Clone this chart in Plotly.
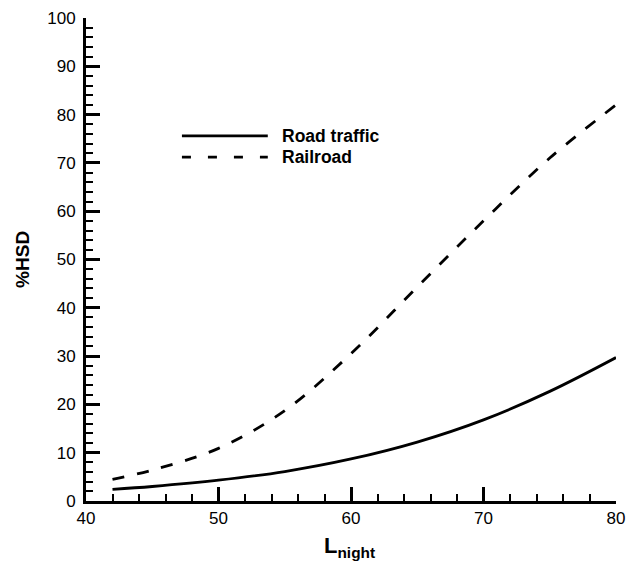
import plotly.graph_objects as go

# Data
l_night = [42, 45, 50, 55, 60, 65, 70, 75, 80]
road_traffic = [2.4, 3.0, 4.3, 6.1, 8.7, 12.2, 16.8, 22.7, 29.7]
railroad = [4.5, 6.4, 10.9, 18.7, 30.5, 44.3, 58.0, 71.0, 82.0]
series_names = ["Road traffic", "Railroad"]
x_title = "L<sub>night</sub>"
y_title = "%HSD"

FONT = "Liberation Sans, Arial, sans-serif"

fig = go.Figure()
fig.add_trace(go.Scatter(x=l_night, y=road_traffic, mode="lines", name=series_names[0],
                         line=dict(color="black", width=2.8, shape="spline", smoothing=1.0),
                         showlegend=False))
fig.add_trace(go.Scatter(x=l_night, y=railroad, mode="lines", name=series_names[1],
                         line=dict(color="black", width=2.8, shape="spline", smoothing=1.0,
                                   dash="12px,13px"),
                         showlegend=False))

# Manual legend (line samples + labels)
legend_y = [0.756, 0.712]
dashes = ["solid", "9px,17px"]
for name, yy, d in zip(series_names, legend_y, dashes):
    fig.add_shape(type="line", xref="paper", yref="paper", x0=0.181, x1=0.343, y0=yy, y1=yy,
                  line=dict(color="black", width=2.6, dash=d))
    fig.add_annotation(xref="paper", yref="paper", x=0.366, y=yy, text=f"<b>{name}</b>",
                       showarrow=False, xanchor="left", yanchor="middle",
                       font=dict(family=FONT, size=17.5, color="black"))

# Axis titles
fig.add_annotation(xref="paper", yref="paper", x=0.498, y=-0.062, text=f"<b>{x_title}</b>",
                   showarrow=False, xanchor="center", yanchor="top",
                   font=dict(family=FONT, size=22, color="black"))
fig.add_annotation(xref="paper", yref="paper", x=-0.12, y=0.5, text=f"<b>{y_title}</b>",
                   showarrow=False, xanchor="center", yanchor="middle", textangle=-90,
                   font=dict(family=FONT, size=19, color="black"))

axis_common = dict(
    showline=True, linecolor="black", linewidth=3, mirror=False,
    ticks="inside", ticklen=14, tickwidth=2.5, tickcolor="black",
    showgrid=False, zeroline=False, automargin=False,
    tickfont=dict(family=FONT, size=17, color="black"),
)

fig.update_xaxes(range=[40, 80], dtick=10, tick0=40,
                 minor=dict(ticks="inside", ticklen=7, tickwidth=1.5, tickcolor="black", dtick=2,
                            showgrid=False),
                 **axis_common)
fig.update_yaxes(range=[0, 100], dtick=10, tick0=0, ticklabelstandoff=4,
                 minor=dict(ticks="inside", ticklen=7, tickwidth=1.5, tickcolor="black", dtick=2,
                            showgrid=False),
                 **axis_common)

fig.update_layout(
    width=628, height=563,
    margin=dict(l=86, r=12, t=18, b=62),
    plot_bgcolor="white", paper_bgcolor="white",
    showlegend=False,
)

# remove the default page margin so the 628x563 figure fills the window exactly
fig.write_html("out.html",
               config={"displayModeBar": False},
               post_script="document.body.style.margin='0';document.body.style.overflow='hidden';")
